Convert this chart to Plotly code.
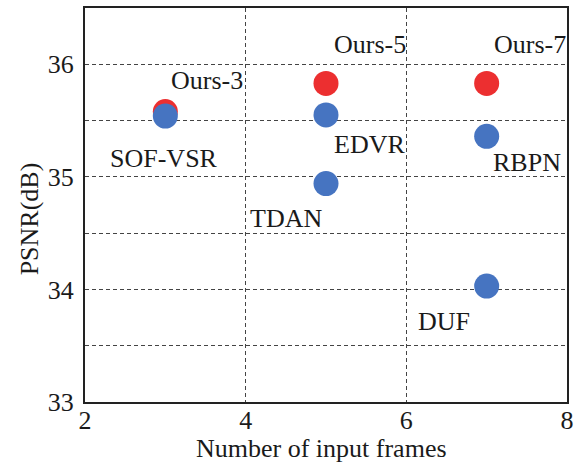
import plotly.graph_objects as go

# PSNR versus number of input frames
ours_names = ["Ours-3", "Ours-5", "Ours-7"]
ours_frames = [3, 5, 7]
ours_psnr = [35.58, 35.83, 35.83]

other_names = ["SOF-VSR", "EDVR", "TDAN", "RBPN", "DUF"]
other_frames = [3, 5, 5, 7, 7]
other_psnr = [35.54, 35.55, 34.94, 35.36, 34.03]

x_ticks = [2, 4, 6, 8]
y_ticks = [33, 33.5, 34, 34.5, 35, 35.5, 36]
y_ticktext = ["33", "", "34", "", "35", "", "36"]

RED = "#EC2F30"
BLUE = "#4674C1"
FONT = "Liberation Serif, Times New Roman, serif"

# label placement: (xanchor, xshift px, yshift px)
label_style = {
    "Ours-3": ("left", 4, 31),
    "Ours-5": ("left", 6, 39),
    "Ours-7": ("left", 5, 39),
    "SOF-VSR": ("center", -1, -42),
    "EDVR": ("left", 6, -30),
    "TDAN": ("right", -2, -35),
    "RBPN": ("left", 4, -26),
    "DUF": ("right", -15, -35),
}

fig = go.Figure()
fig.add_trace(go.Scatter(
    x=ours_frames, y=ours_psnr, mode="markers",
    marker=dict(size=25, color=RED, line=dict(width=0)),
    showlegend=False, hoverinfo="skip",
))
fig.add_trace(go.Scatter(
    x=other_frames, y=other_psnr, mode="markers",
    marker=dict(size=25, color=BLUE, line=dict(width=0)),
    showlegend=False, hoverinfo="skip",
))

annotations = []
for names, xs, ys in [(ours_names, ours_frames, ours_psnr),
                      (other_names, other_frames, other_psnr)]:
    for n, x, y in zip(names, xs, ys):
        anchor, dx, dy = label_style[n]
        annotations.append(dict(
            x=x, y=y, xref="x", yref="y", text=n, showarrow=False,
            xanchor=anchor, yanchor="middle", xshift=dx, yshift=dy,
            font=dict(family=FONT, size=26, color="#1a1a1a"),
        ))

annotations.append(dict(
    x=0.49, y=-0.117, xref="paper", yref="paper", text="Number of input frames",
    showarrow=False, xanchor="center", yanchor="middle",
    font=dict(family=FONT, size=26, color="#1a1a1a"),
))
annotations.append(dict(
    x=-0.115, y=0.465, xref="paper", yref="paper", text="PSNR(dB)",
    showarrow=False, xanchor="center", yanchor="middle", textangle=-90,
    font=dict(family=FONT, size=26, color="#1a1a1a"),
))

axis_common = dict(
    showline=True, linecolor="#222222", linewidth=2, mirror=True,
    showgrid=True, gridcolor="#444444", gridwidth=1, griddash="4px,3px",
    zeroline=False, ticks="",
    tickfont=dict(family=FONT, size=26, color="#1a1a1a"),
)

fig.update_layout(
    width=580, height=462,
    margin=dict(l=85, r=9, t=6, b=59.5),
    paper_bgcolor="white", plot_bgcolor="white",
    xaxis=dict(range=[2, 8], tickvals=x_ticks, ticklabelstandoff=-6, **axis_common),
    yaxis=dict(range=[33, 36.5], tickvals=y_ticks, ticktext=y_ticktext,
               ticklabelstandoff=4, **axis_common),
    annotations=annotations,
)

fig.write_html("out.html")
